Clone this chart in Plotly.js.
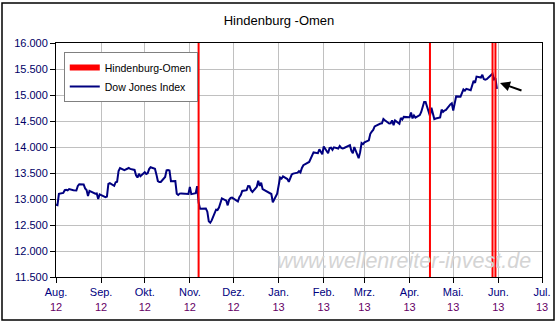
<!DOCTYPE html>
<html>
<head>
<meta charset="utf-8">
<script src="https://cdn.plot.ly/plotly-3.0.1.min.js"></script>
<style>html,body{margin:0;padding:0;background:#fff;}#chart{width:558px;height:325px;}</style>
</head>
<body>
<div id="chart"></div>
<script>
// Dow Jones daily closes
const dates = [
"2012-08-01","2012-08-02","2012-08-03","2012-08-06","2012-08-07","2012-08-08","2012-08-09","2012-08-10",
"2012-08-13","2012-08-14","2012-08-15","2012-08-16","2012-08-17","2012-08-20","2012-08-21","2012-08-22",
"2012-08-23","2012-08-24","2012-08-27","2012-08-28","2012-08-29","2012-08-30","2012-08-31","2012-09-04",
"2012-09-05","2012-09-06","2012-09-07","2012-09-10","2012-09-11","2012-09-12","2012-09-13","2012-09-14",
"2012-09-17","2012-09-18","2012-09-19","2012-09-20","2012-09-21","2012-09-24","2012-09-25","2012-09-26",
"2012-09-27","2012-09-28","2012-10-01","2012-10-02","2012-10-03","2012-10-04","2012-10-05","2012-10-08",
"2012-10-09","2012-10-10","2012-10-11","2012-10-12","2012-10-15","2012-10-16","2012-10-17","2012-10-18",
"2012-10-19","2012-10-22","2012-10-23","2012-10-24","2012-10-25","2012-10-26","2012-10-31","2012-11-01",
"2012-11-02","2012-11-05","2012-11-06","2012-11-07","2012-11-08","2012-11-09","2012-11-12","2012-11-13",
"2012-11-14","2012-11-15","2012-11-16","2012-11-19","2012-11-20","2012-11-21","2012-11-23","2012-11-26",
"2012-11-27","2012-11-28","2012-11-29","2012-11-30","2012-12-03","2012-12-04","2012-12-05","2012-12-06",
"2012-12-07","2012-12-10","2012-12-11","2012-12-12","2012-12-13","2012-12-14","2012-12-17","2012-12-18",
"2012-12-19","2012-12-20","2012-12-21","2012-12-24","2012-12-26","2012-12-27","2012-12-28","2012-12-31",
"2013-01-02","2013-01-03","2013-01-04","2013-01-07","2013-01-08","2013-01-09","2013-01-10","2013-01-11",
"2013-01-14","2013-01-15","2013-01-16","2013-01-17","2013-01-18","2013-01-22","2013-01-23","2013-01-24",
"2013-01-25","2013-01-28","2013-01-29","2013-01-30","2013-01-31","2013-02-01","2013-02-04","2013-02-05",
"2013-02-06","2013-02-07","2013-02-08","2013-02-11","2013-02-12","2013-02-13","2013-02-14","2013-02-15",
"2013-02-19","2013-02-20","2013-02-21","2013-02-22","2013-02-25","2013-02-26","2013-02-27","2013-02-28",
"2013-03-01","2013-03-04","2013-03-05","2013-03-06","2013-03-07","2013-03-08","2013-03-11","2013-03-12",
"2013-03-13","2013-03-14","2013-03-15","2013-03-18","2013-03-19","2013-03-20","2013-03-21","2013-03-22",
"2013-03-25","2013-03-26","2013-03-27","2013-03-28","2013-04-01","2013-04-02","2013-04-03","2013-04-04",
"2013-04-05","2013-04-08","2013-04-09","2013-04-10","2013-04-11","2013-04-12","2013-04-15","2013-04-16",
"2013-04-17","2013-04-18","2013-04-19","2013-04-22","2013-04-23","2013-04-24","2013-04-25","2013-04-26",
"2013-04-29","2013-04-30","2013-05-01","2013-05-02","2013-05-03","2013-05-06","2013-05-07","2013-05-08",
"2013-05-09","2013-05-10","2013-05-13","2013-05-14","2013-05-15","2013-05-16","2013-05-17","2013-05-20",
"2013-05-21","2013-05-22","2013-05-23","2013-05-24","2013-05-28","2013-05-29","2013-05-30","2013-05-31"
];
const dowValues = [
12890,12880,13100,13117,13169,13175,13165,13190,
13169,13172,13164,13250,13285,13280,13203,13172,
13057,13157,13124,13102,13107,13000,13090,13035,
13047,13292,13306,13254,13323,13333,13539,13593,
13553,13565,13577,13596,13579,13559,13457,13413,
13485,13437,13515,13482,13495,13575,13610,13583,
13473,13345,13326,13328,13424,13551,13557,13548,
13343,13345,13102,13077,13104,13107,13096,13232,
13093,13112,13246,12932,12811,12815,12815,12756,
12570,12543,12588,12796,12788,12836,13010,12968,
12878,12985,13022,13026,12966,12952,13035,13075,
13155,13170,13249,13246,13170,13135,13235,13351,
13251,13312,13190,13139,13114,13096,12938,13104,
13412,13391,13435,13384,13329,13391,13471,13488,
13507,13535,13511,13596,13650,13712,13780,13825,
13896,13882,13954,13910,13861,14010,13880,13979,
13987,13944,13993,13971,14019,13982,13973,13981,
14035,13928,13881,14000,13784,13900,14076,14054,
14090,14128,14254,14296,14329,14397,14448,14451,
14455,14539,14515,14453,14456,14512,14421,14512,
14448,14560,14527,14579,14573,14662,14550,14606,
14565,14613,14673,14802,14865,14865,14599,14757,
14619,14537,14548,14568,14720,14676,14701,14713,
14819,14840,14700,14831,14973,14969,15056,15106,
15083,15118,15091,15216,15275,15233,15354,15335,
15388,15307,15294,15303,15409,15302,15324,15116
];
// Hindenburg-Omen signal dates
const omenDates = ["2012-11-07","2013-04-15","2013-05-28","2013-05-30"];
// Axis ticks
const monthTicks = ["2012-08-01","2012-09-01","2012-10-01","2012-11-01","2012-12-01","2013-01-01",
  "2013-02-01","2013-03-01","2013-04-01","2013-05-01","2013-06-01","2013-07-01"];
const monthLabels = ["Aug.","Sep.","Okt.","Nov.","Dez.","Jan.","Feb.","Mrz.","Apr.","Mai.","Jun.","Jul."];
const yearLabels = ["12","12","12","12","12","13","13","13","13","13","13","13"];

const yRange = [11500, 16000];

const tickText = monthLabels.map((m, i) =>
  "<span style='color:#000080'>" + m + "</span><br><span style='color:#660066'>" + yearLabels[i] + "</span>");

const omenX = [], omenY = [];
omenDates.forEach(d => { omenX.push(d, d, null); omenY.push(yRange[0], yRange[1], null); });

const traces = [
  {x:[null], y:[null], type:"scatter", mode:"lines", name:"Hindenburg-Omen",
   line:{color:"#ff0000", width:6}, hoverinfo:"skip"},
  {x:dates, y:dowValues, type:"scatter", mode:"lines", name:"Dow Jones Index",
   line:{color:"#000080", width:2}},
  {x:omenX, y:omenY, type:"scatter", mode:"lines", name:"Hindenburg-Omen", showlegend:false,
   line:{color:"#ff0000", width:2}, connectgaps:false}
];

const layout = {
  width:558, height:325,
  margin:{l:56, r:16, t:43, b:48},
  paper_bgcolor:"#ffffff", plot_bgcolor:"#ffffff",
  separators:",.",
  font:{family:"Liberation Sans, Arial, sans-serif", size:11, color:"#000000"},
  title:{text:"Hindenburg -Omen", x:0.5, xref:"container", xanchor:"center",
         y:1-20/325, yref:"container", yanchor:"middle",
         font:{family:"Liberation Sans, Arial, sans-serif", size:13, color:"#000000"}},
  showlegend:true,
  legend:{x:0.016, y:0.962, xanchor:"left", yanchor:"top", bgcolor:"#ffffff",
          bordercolor:"#808080", borderwidth:1, font:{size:10.5, color:"#000000"},
          itemwidth:30, tracegroupgap:0},
  xaxis:{type:"date", range:["2012-08-01","2013-07-01"], tickmode:"array",
         tickvals:monthTicks, ticktext:tickText, ticks:"outside", ticklen:5, tickcolor:"#000000",
         showgrid:true, gridcolor:"#c0c0c0", gridwidth:1, showline:true, linecolor:"#000000",
         linewidth:1, mirror:true, zeroline:false, tickangle:0,
         tickfont:{size:11, color:"#000080"}},
  yaxis:{range:yRange, dtick:500, tick0:11500, tickformat:",d", ticks:"outside", ticklen:5,
         tickcolor:"#000000", showgrid:true, gridcolor:"#c0c0c0", gridwidth:1, showline:true,
         linecolor:"#000000", linewidth:1, mirror:true, zeroline:false,
         tickfont:{size:11, color:"#000066"}},
  shapes:[
    {type:"rect", xref:"paper", yref:"paper", x0:(2-56)/486, x1:(554-56)/486,
     y0:(277-320)/234, y1:(277-3)/234, line:{color:"#000000", width:1.5}, fillcolor:"rgba(0,0,0,0)", layer:"below"}
  ],
  annotations:[
    {text:"<i>www.wellenreiter-invest.de</i>", xref:"paper", yref:"paper",
     x:(533-56)/486, y:(277-261)/234, xanchor:"right", yanchor:"middle", showarrow:false,
     font:{family:"Liberation Sans, Arial, sans-serif", size:21.5, color:"#d4d4d4"}},
    {text:"", xref:"paper", yref:"paper", x:(500-56)/486, y:(277-83)/234,
     showarrow:true, arrowhead:2, arrowsize:1, arrowwidth:2, arrowcolor:"#000000",
     ax:23, ay:8, axref:"pixel", ayref:"pixel"}
  ]
};

Plotly.newPlot("chart", traces, layout, {displayModeBar:false, staticPlot:true});
</script>
</body>
</html>
